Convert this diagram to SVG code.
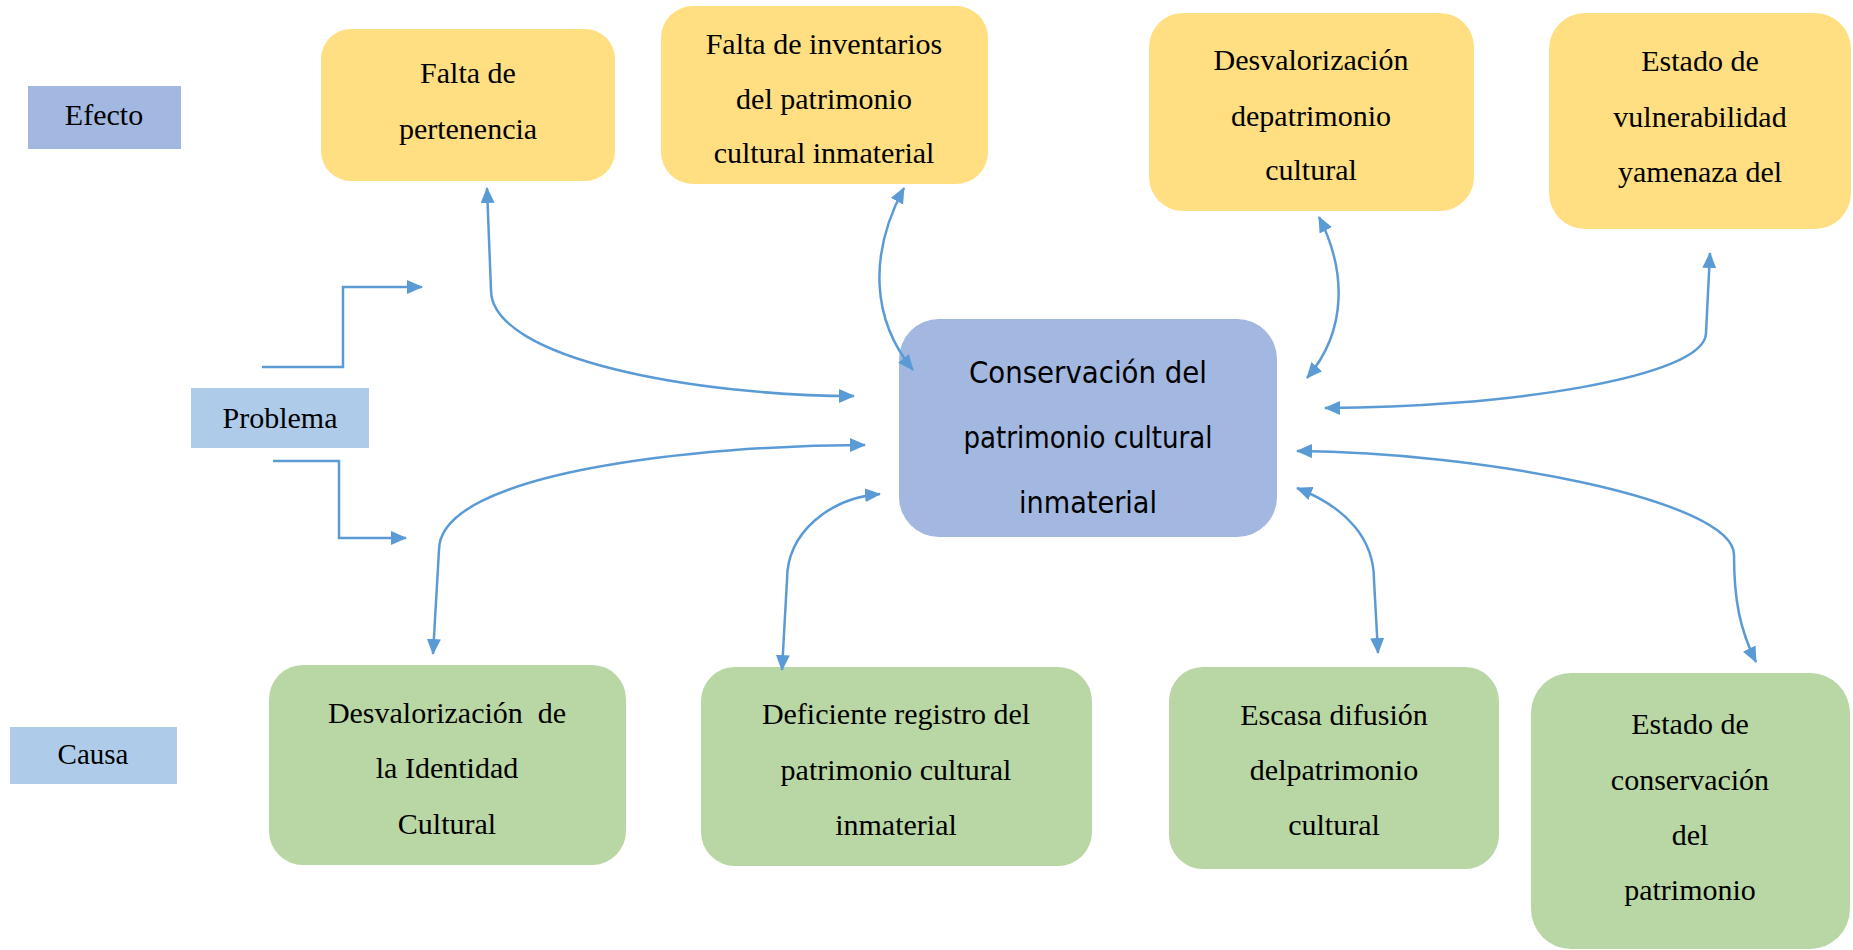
<svg xmlns="http://www.w3.org/2000/svg" width="1853" height="950" viewBox="0 0 1853 950">
<style>
.bg{fill:#ffffff}
.eff{fill:#FFDF81}
.cau{fill:#B9D7A4}
.ctr{fill:#A2B8E0}
.lab1{fill:#A2B8E0}
.lab2{fill:#AECCEA}
.t{font-family:"Liberation Serif","Times New Roman",serif;font-size:30px;fill:#000;text-anchor:middle;white-space:pre}
.tc{font-family:"DejaVu Sans","Verdana",sans-serif;font-size:31px;fill:#000;text-anchor:middle}
.ln{fill:none;stroke:#5B9BD5;stroke-width:2.5}
.ar{marker-start:url(#ah);marker-end:url(#ah)}
.ae{marker-end:url(#ah)}
</style>
<defs>
<marker id="ah" viewBox="0 0 16 14" refX="15" refY="7" markerWidth="16" markerHeight="14" markerUnits="userSpaceOnUse" orient="auto-start-reverse">
<path d="M0,0 L16,7 L0,14 z" fill="#5B9BD5"/>
</marker>
</defs>
<rect class="bg" x="0" y="0" width="1853" height="950"/>

<g id="efecto">
<rect class="lab1" x="28" y="86" width="153" height="63"/>
<text class="t" x="104" y="125">Efecto</text>
</g>
<g id="problema">
<rect class="lab2" x="191" y="388" width="178" height="60"/>
<text class="t" x="280" y="428">Problema</text>
</g>
<g id="causa">
<rect class="lab2" x="10" y="727" width="167" height="57"/>
<text class="t" x="93" y="764" style="font-size:29px">Causa</text>
</g>

<g id="e1">
<rect class="eff" x="321" y="29" width="294" height="152" rx="30"/>
<text class="t" x="468" y="83">Falta de</text>
<text class="t" x="468" y="139">pertenencia</text>
</g>
<g id="e2">
<rect class="eff" x="661" y="6" width="327" height="178" rx="32"/>
<text class="t" x="824" y="54">Falta de inventarios</text>
<text class="t" x="824" y="109">del patrimonio</text>
<text class="t" x="824" y="163">cultural inmaterial</text>
</g>
<g id="e3">
<rect class="eff" x="1149" y="13" width="325" height="198" rx="34"/>
<text class="t" x="1311" y="70">Desvalorización</text>
<text class="t" x="1311" y="126">depatrimonio</text>
<text class="t" x="1311" y="180">cultural</text>
</g>
<g id="e4">
<rect class="eff" x="1549" y="13" width="302" height="216" rx="36"/>
<text class="t" x="1700" y="71">Estado de</text>
<text class="t" x="1700" y="127">vulnerabilidad</text>
<text class="t" x="1700" y="182">yamenaza del</text>
</g>

<g id="centro">
<rect class="ctr" x="899" y="319" width="378" height="218" rx="40"/>
<text class="tc" x="1088" y="383" textLength="238" lengthAdjust="spacingAndGlyphs">Conservación del</text>
<text class="tc" x="1088" y="448" textLength="249" lengthAdjust="spacingAndGlyphs">patrimonio cultural</text>
<text class="tc" x="1088" y="513" textLength="138" lengthAdjust="spacingAndGlyphs">inmaterial</text>
</g>

<g id="c1">
<rect class="cau" x="269" y="665" width="357" height="200" rx="34"/>
<text class="t" x="447" y="723">Desvalorización  de</text>
<text class="t" x="447" y="778">la Identidad</text>
<text class="t" x="447" y="834">Cultural</text>
</g>
<g id="c2">
<rect class="cau" x="701" y="667" width="391" height="199" rx="34"/>
<text class="t" x="896" y="724">Deficiente registro del</text>
<text class="t" x="896" y="780">patrimonio cultural</text>
<text class="t" x="896" y="835">inmaterial</text>
</g>
<g id="c3">
<rect class="cau" x="1169" y="667" width="330" height="202" rx="34"/>
<text class="t" x="1334" y="725">Escasa difusión</text>
<text class="t" x="1334" y="780">delpatrimonio</text>
<text class="t" x="1334" y="835">cultural</text>
</g>
<g id="c4">
<rect class="cau" x="1531" y="673" width="319" height="276" rx="40"/>
<text class="t" x="1690" y="734">Estado de</text>
<text class="t" x="1690" y="790">conservación</text>
<text class="t" x="1690" y="845">del</text>
<text class="t" x="1690" y="900">patrimonio</text>
</g>

<g id="connectors">
<path class="ln ae" d="M262 367 L343 367 L343 287 L422 287"/>
<path class="ln ae" d="M273 461 L339 461 L339 538 L406 538"/>
<path class="ln ar" d="M487 188 L491 290 C491 360 700 396 854 396"/>
<path class="ln ar" d="M904 188 C868 255 872 320 913 370"/>
<path class="ln ar" d="M1319 217 C1346 270 1348 330 1307 378"/>
<path class="ln ar" d="M1710 253 L1706 333 C1706 378 1500 408 1325 408"/>
<path class="ln ar" d="M433 654 L439 550 C439 472 700 445 865 445"/>
<path class="ln ar" d="M782 670 L787 580 C787 532 830 498 880 494"/>
<path class="ln ar" d="M1297 488 C1348 508 1374 540 1374 580 L1378 653"/>
<path class="ln ar" d="M1297 451 C1480 452 1734 500 1734 555 C1734 600 1740 630 1756 662"/>
</g>
</svg>
